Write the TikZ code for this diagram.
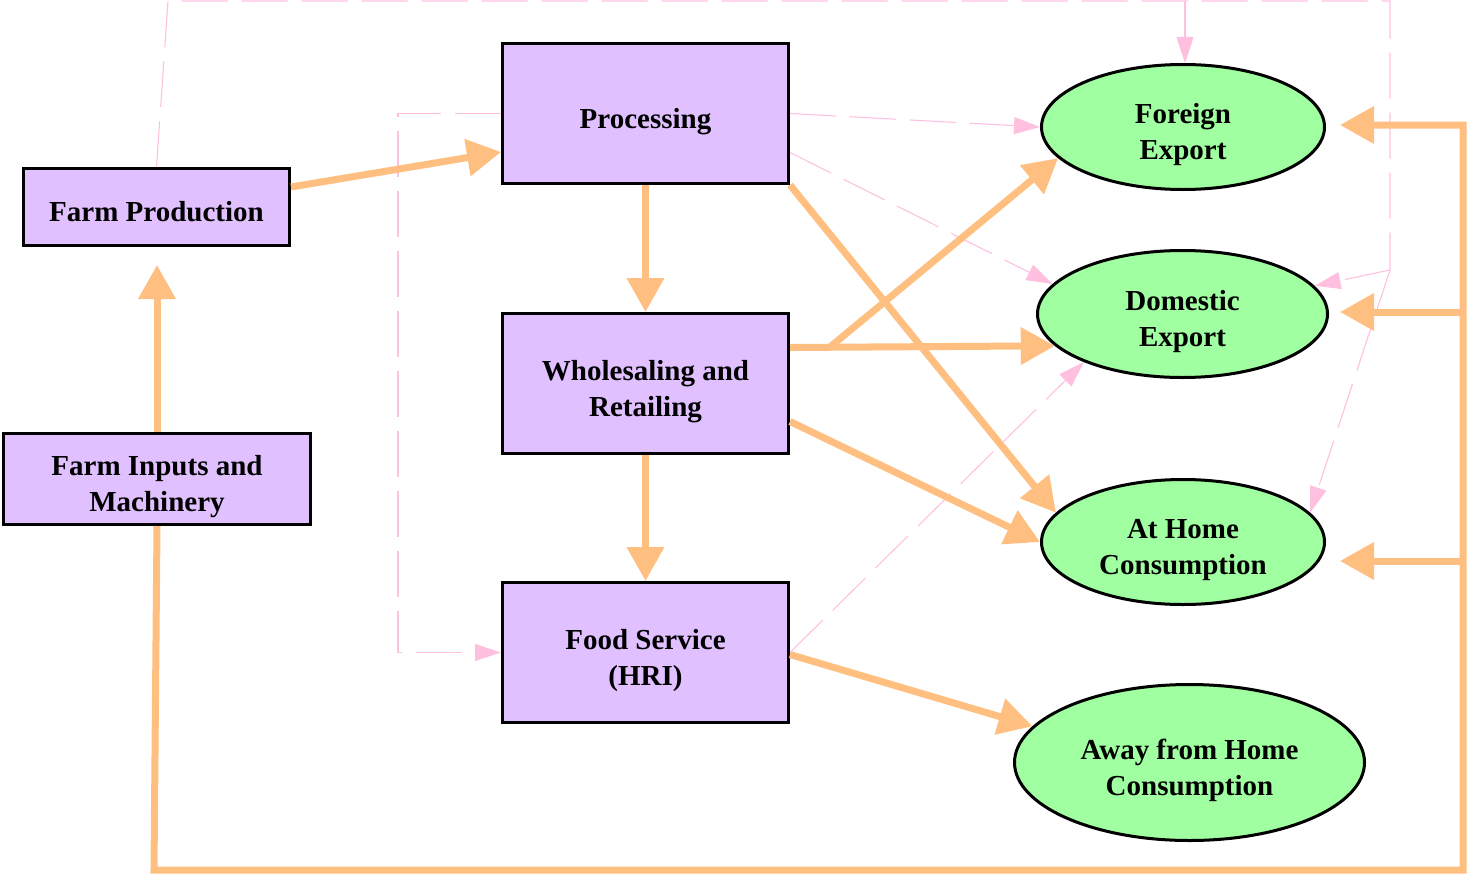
\documentclass[tikz,border=0pt]{standalone}
\usepackage{fontspec}
\setmainfont{Liberation Serif}
\usetikzlibrary{arrows.meta,shapes.geometric}
\definecolor{boxfill}{HTML}{E0C0FF}
\definecolor{ellfill}{HTML}{A0FFA0}
\definecolor{flowc}{HTML}{FFBF80}
\definecolor{pinkc}{HTML}{FFC0E0}
\newcommand{\lbltext}[1]{\raisebox{-14pt}[0pt][0pt]{\begin{tabular}{@{}c@{}}#1\end{tabular}}}
\begin{document}
\begin{tikzpicture}[x=1pt,y=-1pt,
  box/.style={draw=black, line width=3pt, fill=boxfill, rectangle,
    font=\fontsize{29}{36}\selectfont\bfseries, inner sep=0pt},
  oval/.style={draw=black, line width=3pt, fill=ellfill, ellipse,
    font=\fontsize{29}{36}\selectfont\bfseries, inner sep=0pt},
  flowarrow/.style={draw=flowc, line width=7pt, -{Triangle[length=34pt,width=36pt]}},
  flowline/.style={draw=flowc, line width=7pt, line join=miter},
  pinkarrow/.style={draw=pinkc, line width=1.1pt, dash pattern=on 46pt off 14pt,
    -{Triangle[length=26pt,width=17pt]}},
  pinkpath/.style={draw=pinkc, line width=1.1pt, dash pattern=on 46pt off 14pt}
]
\useasboundingbox (0,0) rectangle (1469,883);

% nodes
\node[box, minimum width=266pt, minimum height=77pt] (fp) at (156.5,207) {\lbltext{Farm Production}};
\node[box, minimum width=307pt, minimum height=91pt] (fi) at (157,479) {\lbltext{Farm Inputs and\\Machinery}};
\node[box, minimum width=286pt, minimum height=140pt] (proc) at (645.5,113.5) {\lbltext{Processing}};
\node[box, minimum width=286pt, minimum height=140pt] (ws) at (645.5,383.5) {\lbltext{Wholesaling and\\Retailing}};
\node[box, minimum width=286pt, minimum height=140pt] (fs) at (645.5,652.5) {\lbltext{Food Service\\(HRI)}};

\node[oval, minimum width=283pt, minimum height=125pt] (fe) at (1183,127) {\lbltext{Foreign\\Export}};
\node[oval, minimum width=290pt, minimum height=127pt] (de) at (1182.5,314) {\lbltext{Domestic\\Export}};
\node[oval, minimum width=283pt, minimum height=125pt] (ah) at (1183,542) {\lbltext{At Home\\Consumption}};
\node[oval, minimum width=350pt, minimum height=156pt] (aw) at (1189.5,762.5) {\lbltext{Away from Home\\Consumption}};

% named points
\coordinate (brW) at (830,347);
\coordinate (busBL) at (154,870);
\coordinate (busBR) at (1463,870);
\coordinate (busTR) at (1463,125);
\coordinate (busM1) at (1463,312);
\coordinate (busM2) at (1463,561);
\coordinate (tipFE) at (1340,125);
\coordinate (tipDE) at (1340,312);
\coordinate (tipAH) at (1340,561);
\coordinate (pTL) at (168,1);
\coordinate (pTR) at (1390,1);
\coordinate (pTM) at (1185,1);
\coordinate (pR) at (1390,270);
\coordinate (pL) at (398,0);

% pink dashed connectors
\draw[pinkpath] (fp.north) -- (pTL) -- (pTR) -- (pR);
\draw[pinkarrow] (pR) -- (de.12);
\draw[pinkarrow] (pR) -- (ah.13);
\draw[pinkarrow] (pTM) -- (pTM |- fe.north);
\draw[pinkarrow] (proc.west) -- (proc.west -| pL) -- (fs.west -| pL) -- (fs.west);
\draw[pinkarrow] (proc.east) -- (fe.west);
\draw[pinkarrow] ([yshift=-39pt]proc.east) -- (de.167);
\draw[pinkarrow] (fs.east) -- (de.206);

% orange flows
\draw[flowarrow] ([yshift=20pt]fp.east) -- ([yshift=-38.5pt]proc.west);
\draw[flowarrow, shorten >=18pt] (fi.north) -- (fi.north |- fp.south);
\draw[flowarrow] (proc.south) -- (ws.north);
\draw[flowarrow] (ws.south) -- (fs.north);
\draw[flowarrow] (proc.south east) -- (ah.167);
\draw[flowarrow] ([yshift=36pt]ws.east) -- (de.194);
\draw[flowarrow] (brW) -- (fe.194);
\draw[flowarrow] ([yshift=-38pt]ws.east) -- (ah.west);
\draw[flowarrow] ([yshift=-2pt]fs.east) -- (aw.167);
\draw[flowline, -{Triangle[length=34pt,width=36pt]}] (fi.south) -- (busBL) -- (busBR) -- (busTR) -- (tipFE);
\draw[flowarrow] (busM1) -- (tipDE);
\draw[flowarrow] (busM2) -- (tipAH);
\end{tikzpicture}
\end{document}
